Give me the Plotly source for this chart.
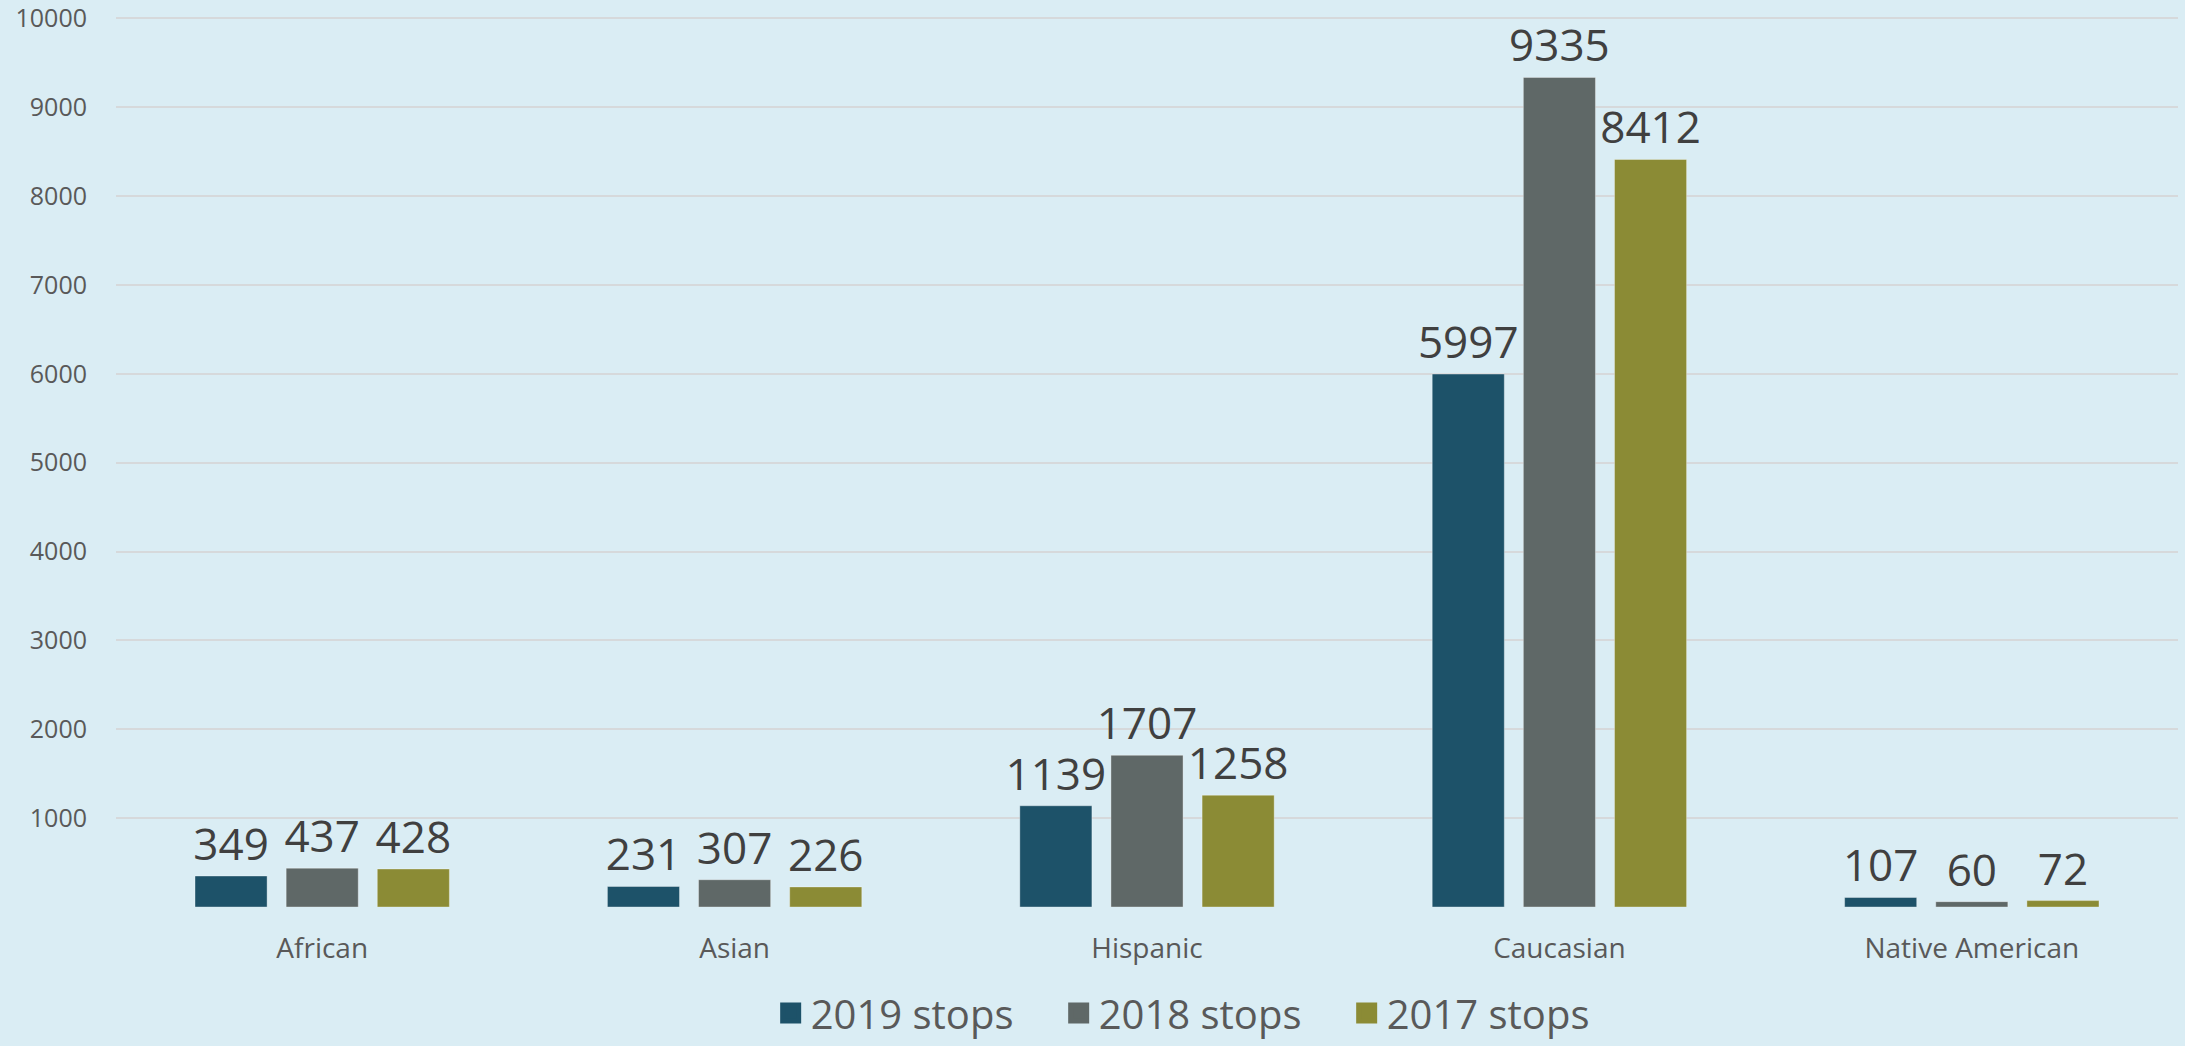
import plotly.graph_objects as go

categories = ["African", "Asian", "Hispanic", "Caucasian", "Native American"]
stops_2019 = [349, 231, 1139, 5997, 107]
stops_2018 = [437, 307, 1707, 9335, 60]
stops_2017 = [428, 226, 1258, 8412, 72]
series_names = ["2019 stops", "2018 stops", "2017 stops"]
series_colors = ["#1D5269", "#5F6867", "#8B8B35"]
y_ticks = [0, 1000, 2000, 3000, 4000, 5000, 6000, 7000, 8000, 9000, 10000]
y_ticktext = [""] + [str(v) for v in y_ticks[1:]]

FONT = "Open Sans"
fig = go.Figure()
for name, vals, col in zip(series_names, [stops_2019, stops_2018, stops_2017], series_colors):
    fig.add_trace(go.Bar(
        x=categories, y=vals, name=name, showlegend=False,
        marker=dict(color=col, line=dict(color="rgba(255,255,255,0.35)", width=1)),
        text=[str(v) for v in vals], textposition="outside", constraintext="none",
        textfont=dict(family=FONT, size=44, color="#404040"),
        cliponaxis=False,
    ))
# legend entries with larger square swatches
for name, col in zip(series_names, series_colors):
    fig.add_trace(go.Scatter(
        x=[categories[0]], y=[None], name=name, mode="markers",
        marker=dict(symbol="square", size=16, color=col, line=dict(color=col, width=5)),
        showlegend=True,
    ))

fig.update_layout(
    width=2185, height=1046,
    paper_bgcolor="#DAEDF4", plot_bgcolor="#DAEDF4",
    margin=dict(l=116, r=7, t=17, b=139, autoexpand=False),
    barmode="group", bargap=0.337, bargroupgap=0.209,
    font=dict(family=FONT, color="#595959"),
    showlegend=True,
    legend=dict(orientation="h", x=0.527, xanchor="center",
                yref="container", y=1 - 1013 / 1046, yanchor="middle",
                font=dict(family=FONT, size=40, color="#595959"),
                itemsizing="trace", itemwidth=30, bgcolor="rgba(0,0,0,0)",
                entrywidth=243, tracegroupgap=0),
)
fig.update_xaxes(showgrid=False, showline=False, ticks="", ticklabelstandoff=22,
                 tickfont=dict(family=FONT, size=28, color="#595959"))
fig.update_yaxes(range=[0, 10015], tickvals=y_ticks, ticktext=y_ticktext,
                 showgrid=True, gridcolor="#D6D9DB", gridwidth=2,
                 zeroline=False, showline=False, ticks="", ticklabelstandoff=28,
                 tickfont=dict(family=FONT, size=25, color="#595959"))

fig.write_html("out.html", config={"displayModeBar": False},
               post_script="document.body.style.margin='0';document.body.style.overflow='hidden';")
